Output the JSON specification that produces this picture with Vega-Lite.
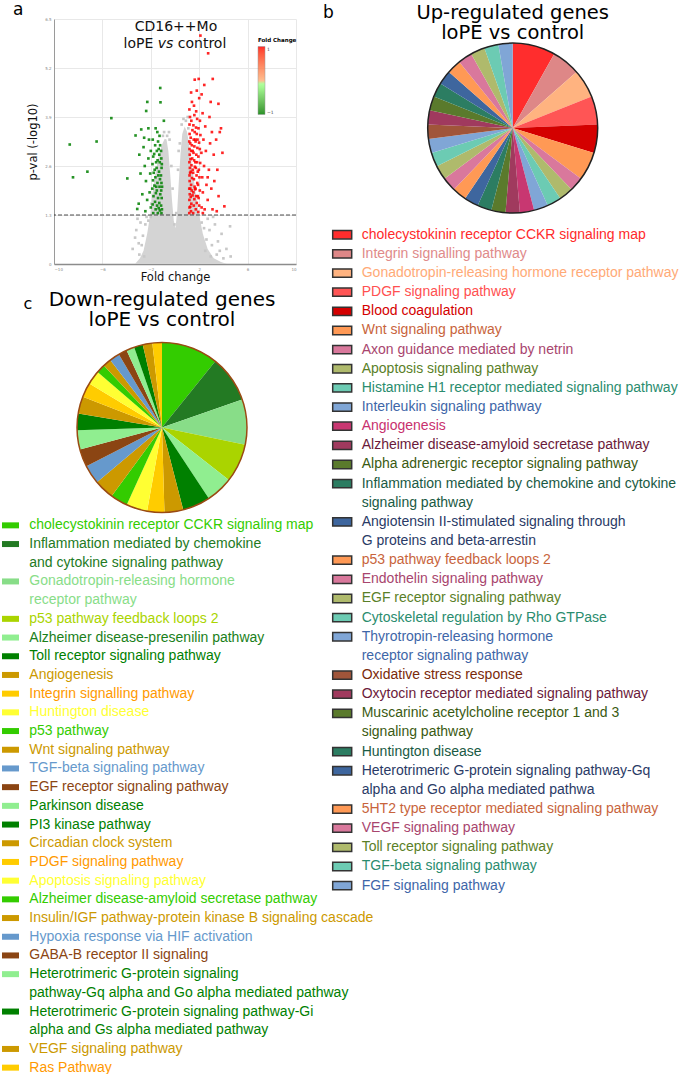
{
"$schema": "https://vega.github.io/schema/vega-lite/v6.json",
"usermeta": {"embedOptions": {"actions": false}},
"autosize": {"type": "pad"},
"padding": {"left": 2, "top": 1, "right": 0, "bottom": 0},
"config": {
  "view": {"stroke": null},
  "font": "DejaVu Sans",
  "title": {"font": "DejaVu Sans", "fontWeight": "normal", "color": "#000"},
  "axis": {"labelFont": "DejaVu Sans", "titleFont": "DejaVu Sans"}
},
"datasets": {
  "cloud": [
    {"x":-3.3,"y":0},{"x":-2.9,"y":0.15},{"x":-2.6,"y":0.35},{"x":-2.3,"y":0.8},{"x":-2.05,"y":1.3},{"x":-1.85,"y":1.9},{"x":-1.6,"y":2.45},{"x":-1.35,"y":2.85},{"x":-1.1,"y":3.15},{"x":-0.85,"y":3.32},{"x":-0.7,"y":3.3},{"x":-0.55,"y":3.0},{"x":-0.4,"y":2.4},{"x":-0.25,"y":1.7},{"x":-0.1,"y":1.15},{"x":0.04,"y":0.95},{"x":0.18,"y":1.4},{"x":0.3,"y":2.1},{"x":0.45,"y":2.9},{"x":0.6,"y":3.45},{"x":0.8,"y":3.65},{"x":1.0,"y":3.5},{"x":1.15,"y":3.2},{"x":1.4,"y":2.6},{"x":1.7,"y":1.9},{"x":2.0,"y":1.3},{"x":2.3,"y":0.8},{"x":2.7,"y":0.4},{"x":3.2,"y":0.15},{"x":3.8,"y":0.05},{"x":4.3,"y":0}
  ],
  "gray": [
    {"x":-3.5,"y":0.4},{"x":-3.2,"y":0.9},{"x":-3.0,"y":0.55},{"x":-2.85,"y":1.1},{"x":-2.65,"y":0.75},{"x":-2.45,"y":1.05},{"x":-2.95,"y":0.25},{"x":-2.55,"y":0.2},{"x":-2.75,"y":0.5},{"x":-2.35,"y":1.25},{"x":-3.1,"y":1.2},{"x":-3.3,"y":0.7},{"x":-2.2,"y":1.15},{"x":-2.0,"y":1.25},{"x":-1.95,"y":1.6},{"x":-1.0,"y":3.4},{"x":-0.9,"y":3.5},{"x":-0.65,"y":3.4},{"x":-0.45,"y":3.3},{"x":-0.3,"y":2.6},{"x":-0.5,"y":3.5},{"x":-0.2,"y":2.0},{"x":0.1,"y":1.35},{"x":-0.05,"y":1.05},{"x":0.25,"y":2.5},{"x":0.4,"y":3.2},{"x":0.55,"y":3.7},{"x":0.7,"y":3.85},{"x":0.9,"y":3.8},{"x":1.05,"y":3.9},{"x":1.1,"y":3.6},{"x":0.3,"y":3.0},{"x":2.2,"y":1.1},{"x":2.4,"y":0.95},{"x":2.6,"y":0.65},{"x":2.85,"y":0.9},{"x":3.05,"y":0.5},{"x":3.3,"y":1.05},{"x":3.55,"y":0.6},{"x":3.85,"y":0.8},{"x":4.25,"y":0.4},{"x":4.55,"y":1.0},{"x":2.95,"y":0.2},{"x":3.45,"y":0.25},{"x":4.0,"y":0.15},{"x":2.5,"y":0.35},{"x":2.7,"y":1.2},{"x":3.15,"y":1.25},{"x":4.6,"y":0.2},{"x":3.7,"y":0.35}
  ],
  "sig": [
    {"x":1.18,"y":1.35,"d":1},{"x":1.2,"y":1.5,"d":1},{"x":1.19,"y":1.7,"d":1},{"x":1.22,"y":1.85,"d":1},{"x":1.18,"y":2.0,"d":1},{"x":1.21,"y":2.2,"d":1},{"x":1.2,"y":2.35,"d":1},{"x":1.23,"y":2.55,"d":1},{"x":1.19,"y":2.7,"d":1},{"x":1.22,"y":2.9,"d":1},{"x":1.2,"y":3.05,"d":1},{"x":1.18,"y":3.25,"d":1},{"x":1.21,"y":3.45,"d":1},{"x":1.2,"y":3.7,"d":1},{"x":1.24,"y":3.9,"d":1},{"x":1.19,"y":4.1,"d":1},
    {"x":1.32,"y":1.4,"d":1},{"x":1.35,"y":1.6,"d":1},{"x":1.3,"y":1.78,"d":1},{"x":1.38,"y":1.95,"d":1},{"x":1.33,"y":2.1,"d":1},{"x":1.4,"y":2.28,"d":1},{"x":1.31,"y":2.45,"d":1},{"x":1.36,"y":2.62,"d":1},{"x":1.42,"y":2.8,"d":1},{"x":1.34,"y":3.0,"d":1},{"x":1.39,"y":3.15,"d":1},{"x":1.3,"y":3.35,"d":1},{"x":1.44,"y":3.55,"d":1},{"x":1.35,"y":3.8,"d":1},{"x":1.4,"y":4.3,"d":1},{"x":1.33,"y":4.55,"d":1},
    {"x":1.5,"y":1.35,"d":1},{"x":1.55,"y":1.55,"d":1},{"x":1.6,"y":1.72,"d":1},{"x":1.52,"y":1.9,"d":1},{"x":1.62,"y":2.05,"d":1},{"x":1.56,"y":2.25,"d":1},{"x":1.5,"y":2.42,"d":1},{"x":1.64,"y":2.58,"d":1},{"x":1.58,"y":2.75,"d":1},{"x":1.53,"y":2.95,"d":1},{"x":1.6,"y":3.12,"d":1},{"x":1.55,"y":3.3,"d":1},{"x":1.63,"y":3.5,"d":1},{"x":1.52,"y":3.68,"d":1},{"x":1.6,"y":3.95,"d":1},{"x":1.63,"y":4.89,"d":1},{"x":1.57,"y":4.2,"d":1},
    {"x":1.72,"y":1.45,"d":1},{"x":1.8,"y":1.62,"d":1},{"x":1.75,"y":1.8,"d":1},{"x":1.7,"y":2.0,"d":1},{"x":1.84,"y":2.15,"d":1},{"x":1.78,"y":2.35,"d":1},{"x":1.72,"y":2.55,"d":1},{"x":1.82,"y":2.7,"d":1},{"x":1.76,"y":2.9,"d":1},{"x":1.85,"y":3.08,"d":1},{"x":1.7,"y":3.25,"d":1},{"x":1.8,"y":3.45,"d":1},{"x":1.74,"y":3.62,"d":1},{"x":1.83,"y":3.85,"d":1},{"x":1.75,"y":4.05,"d":1},{"x":1.8,"y":4.6,"d":1},
    {"x":1.92,"y":1.38,"d":1},{"x":2.0,"y":1.55,"d":1},{"x":1.95,"y":1.75,"d":1},{"x":2.05,"y":1.95,"d":1},{"x":1.9,"y":2.1,"d":1},{"x":2.02,"y":2.3,"d":1},{"x":1.97,"y":2.5,"d":1},{"x":2.08,"y":2.68,"d":1},{"x":1.93,"y":2.85,"d":1},{"x":2.05,"y":3.05,"d":1},{"x":1.99,"y":3.22,"d":1},{"x":2.1,"y":3.42,"d":1},{"x":1.94,"y":3.6,"d":1},{"x":2.06,"y":3.8,"d":1},{"x":1.96,"y":4.91,"d":1},{"x":2.1,"y":6.06,"d":1},{"x":2.0,"y":4.4,"d":1},
    {"x":2.2,"y":1.5,"d":1},{"x":2.3,"y":1.9,"d":1},{"x":2.25,"y":2.3,"d":1},{"x":2.4,"y":2.6,"d":1},{"x":2.18,"y":2.95,"d":1},{"x":2.35,"y":3.3,"d":1},{"x":2.5,"y":3.65,"d":1},{"x":2.28,"y":4.0,"d":1},{"x":2.6,"y":2.1,"d":1},{"x":2.45,"y":1.45,"d":1},{"x":2.55,"y":3.0,"d":1},{"x":2.2,"y":4.5,"d":1},{"x":2.42,"y":4.75,"d":1},{"x":2.3,"y":1.35,"d":1},
    {"x":2.74,"y":5.59,"d":1},{"x":2.7,"y":1.7,"d":1},{"x":2.8,"y":2.5,"d":1},{"x":2.9,"y":3.2,"d":1},{"x":3.0,"y":2.0,"d":1},{"x":2.85,"y":3.9,"d":1},{"x":3.1,"y":1.45,"d":1},{"x":3.2,"y":2.9,"d":1},{"x":3.12,"y":4.91,"d":1},{"x":2.95,"y":4.3,"d":1},{"x":3.05,"y":3.5,"d":1},{"x":2.7,"y":2.3,"d":1},{"x":3.25,"y":2.2,"d":1},
    {"x":3.4,"y":3.3,"d":1},{"x":3.59,"y":4.25,"d":1},{"x":3.5,"y":2.5,"d":1},{"x":3.7,"y":3.5,"d":1},{"x":3.92,"y":2.95,"d":1},{"x":4.08,"y":1.53,"d":1},{"x":3.6,"y":1.8,"d":1},{"x":3.8,"y":3.6,"d":1},{"x":3.45,"y":1.4,"d":1},
    {"x":1.26,"y":1.52,"d":1},{"x":1.27,"y":2.0,"d":1},{"x":1.25,"y":2.42,"d":1},{"x":1.28,"y":2.78,"d":1},{"x":1.26,"y":3.2,"d":1},{"x":1.45,"y":1.82,"d":1},{"x":1.47,"y":2.5,"d":1},{"x":1.46,"y":3.0,"d":1},{"x":1.66,"y":1.98,"d":1},{"x":1.68,"y":2.7,"d":1},{"x":1.68,"y":3.3,"d":1},{"x":1.88,"y":1.8,"d":1},{"x":1.88,"y":2.45,"d":1},{"x":1.86,"y":3.3,"d":1},
    {"x":-1.12,"y":1.35,"d":-1},{"x":-1.15,"y":1.55,"d":-1},{"x":-1.1,"y":1.75,"d":-1},{"x":-1.14,"y":1.95,"d":-1},{"x":-1.12,"y":2.15,"d":-1},{"x":-1.16,"y":2.35,"d":-1},{"x":-1.11,"y":2.55,"d":-1},{"x":-1.13,"y":2.8,"d":-1},{"x":-1.15,"y":3.0,"d":-1},
    {"x":-1.25,"y":1.42,"d":-1},{"x":-1.3,"y":1.62,"d":-1},{"x":-1.22,"y":1.85,"d":-1},{"x":-1.28,"y":2.05,"d":-1},{"x":-1.24,"y":2.25,"d":-1},{"x":-1.32,"y":2.45,"d":-1},{"x":-1.26,"y":2.7,"d":-1},{"x":-1.3,"y":2.9,"d":-1},{"x":-1.23,"y":3.15,"d":-1},{"x":-1.22,"y":4.67,"d":-1},{"x":-1.2,"y":4.29,"d":-1},{"x":-1.28,"y":3.4,"d":-1},
    {"x":-1.42,"y":1.35,"d":-1},{"x":-1.48,"y":1.55,"d":-1},{"x":-1.4,"y":1.75,"d":-1},{"x":-1.5,"y":1.95,"d":-1},{"x":-1.45,"y":2.15,"d":-1},{"x":-1.38,"y":2.35,"d":-1},{"x":-1.52,"y":2.55,"d":-1},{"x":-1.44,"y":2.75,"d":-1},{"x":-1.5,"y":3.0,"d":-1},{"x":-1.4,"y":3.25,"d":-1},{"x":-1.46,"y":3.5,"d":-1},
    {"x":-1.6,"y":1.45,"d":-1},{"x":-1.65,"y":1.65,"d":-1},{"x":-1.58,"y":1.88,"d":-1},{"x":-1.7,"y":2.08,"d":-1},{"x":-1.62,"y":2.3,"d":-1},{"x":-1.68,"y":2.5,"d":-1},{"x":-1.56,"y":2.7,"d":-1},{"x":-1.72,"y":2.92,"d":-1},{"x":-1.64,"y":3.15,"d":-1},{"x":-1.6,"y":3.6,"d":-1},{"x":-0.92,"y":3.8,"d":-1},
    {"x":-1.8,"y":1.35,"d":-1},{"x":-1.85,"y":1.58,"d":-1},{"x":-1.78,"y":1.8,"d":-1},{"x":-1.88,"y":2.0,"d":-1},{"x":-1.82,"y":2.22,"d":-1},{"x":-1.76,"y":2.42,"d":-1},{"x":-1.86,"y":2.65,"d":-1},{"x":-1.8,"y":2.85,"d":-1},{"x":-1.84,"y":3.3,"d":-1},
    {"x":-2.0,"y":1.5,"d":-1},{"x":-2.1,"y":1.9,"d":-1},{"x":-2.05,"y":2.4,"d":-1},{"x":-2.2,"y":2.8,"d":-1},{"x":-2.15,"y":3.3,"d":-1},{"x":-2.29,"y":4.3,"d":-1},{"x":-2.38,"y":4.06,"d":-1},{"x":-2.3,"y":1.7,"d":-1},{"x":-2.4,"y":2.2,"d":-1},{"x":-2.5,"y":2.6,"d":-1},{"x":-2.6,"y":3.1,"d":-1},{"x":-2.45,"y":1.4,"d":-1},{"x":-2.7,"y":1.85,"d":-1},{"x":-2.79,"y":3.57,"d":-1},{"x":-2.85,"y":2.4,"d":-1},{"x":-3.0,"y":1.6,"d":-1},{"x":-3.12,"y":1.46,"d":-1},{"x":-3.26,"y":3.41,"d":-1},{"x":-2.95,"y":2.9,"d":-1},{"x":-2.2,"y":3.6,"d":-1},{"x":-2.55,"y":3.35,"d":-1},{"x":-2.0,"y":3.0,"d":-1},
    {"x":-8.7,"y":3.17,"d":-1},{"x":-8.43,"y":2.3,"d":-1},{"x":-6.48,"y":3.25,"d":-1},{"x":-7.24,"y":2.45,"d":-1},{"x":-5.26,"y":3.87,"d":-1},{"x":-3.94,"y":2.27,"d":-1},
    {"x":-1.08,"y":1.45,"d":-1},{"x":-1.07,"y":2.05,"d":-1},{"x":-1.09,"y":2.65,"d":-1},{"x":-1.35,"y":1.48,"d":-1},{"x":-1.55,"y":2.05,"d":-1},{"x":-1.35,"y":3.05,"d":-1}
  ],
  "up": [
    {"i":1,"item":"cholecystokinin receptor CCKR signaling map","n":3},
    {"i":2,"item":"Integrin signalling pathway","n":2},
    {"i":3,"item":"Gonadotropin-releasing hormone receptor pathway","n":2},
    {"i":4,"item":"PDGF signaling pathway","n":2},
    {"i":5,"item":"Blood coagulation","n":2},
    {"i":6,"item":"Wnt signaling pathway","n":2},
    {"i":7,"item":"Axon guidance mediated by netrin","n":1},
    {"i":8,"item":"Apoptosis signaling pathway","n":1},
    {"i":9,"item":"Histamine H1 receptor mediated signaling pathway","n":1},
    {"i":10,"item":"Interleukin signaling pathway","n":1},
    {"i":11,"item":"Angiogenesis","n":1},
    {"i":12,"item":"Alzheimer disease-amyloid secretase pathway","n":1},
    {"i":13,"item":"Alpha adrenergic receptor signaling pathway","n":1},
    {"i":14,"item":"Inflammation mediated by chemokine and cytokine signaling pathway","n":1},
    {"i":15,"item":"Angiotensin II-stimulated signaling through G proteins and beta-arrestin","n":1},
    {"i":16,"item":"p53 pathway feedback loops 2","n":1},
    {"i":17,"item":"Endothelin signaling pathway","n":1},
    {"i":18,"item":"EGF receptor signaling pathway","n":1},
    {"i":19,"item":"Cytoskeletal regulation by Rho GTPase","n":1},
    {"i":20,"item":"Thyrotropin-releasing hormone receptor signaling pathway","n":1},
    {"i":21,"item":"Oxidative stress response","n":1},
    {"i":22,"item":"Oxytocin receptor mediated signaling pathway","n":1},
    {"i":23,"item":"Muscarinic acetylcholine receptor 1 and 3 signaling pathway","n":1},
    {"i":24,"item":"Huntington disease","n":1},
    {"i":25,"item":"Heterotrimeric G-protein signaling pathway-Gq alpha and Go alpha mediated pathwa","n":1},
    {"i":26,"item":"5HT2 type receptor mediated signaling pathway","n":1},
    {"i":27,"item":"VEGF signaling pathway","n":1},
    {"i":28,"item":"Toll receptor signaling pathway","n":1},
    {"i":29,"item":"TGF-beta signaling pathway","n":1},
    {"i":30,"item":"FGF signaling pathway","n":1}
  ],
  "upLines": [
    {"line":0,"item":"cholecystokinin receptor CCKR signaling map","text":"cholecystokinin receptor CCKR signaling map"},
    {"line":1,"item":"Integrin signalling pathway","text":"Integrin signalling pathway"},
    {"line":2,"item":"Gonadotropin-releasing hormone receptor pathway","text":"Gonadotropin-releasing hormone receptor pathway"},
    {"line":3,"item":"PDGF signaling pathway","text":"PDGF signaling pathway"},
    {"line":4,"item":"Blood coagulation","text":"Blood coagulation"},
    {"line":5,"item":"Wnt signaling pathway","text":"Wnt signaling pathway"},
    {"line":6,"item":"Axon guidance mediated by netrin","text":"Axon guidance mediated by netrin"},
    {"line":7,"item":"Apoptosis signaling pathway","text":"Apoptosis signaling pathway"},
    {"line":8,"item":"Histamine H1 receptor mediated signaling pathway","text":"Histamine H1 receptor mediated signaling pathway"},
    {"line":9,"item":"Interleukin signaling pathway","text":"Interleukin signaling pathway"},
    {"line":10,"item":"Angiogenesis","text":"Angiogenesis"},
    {"line":11,"item":"Alzheimer disease-amyloid secretase pathway","text":"Alzheimer disease-amyloid secretase pathway"},
    {"line":12,"item":"Alpha adrenergic receptor signaling pathway","text":"Alpha adrenergic receptor signaling pathway"},
    {"line":13,"item":"Inflammation mediated by chemokine and cytokine signaling pathway","text":"Inflammation mediated by chemokine and cytokine"},
    {"line":14,"item":"Inflammation mediated by chemokine and cytokine signaling pathway","text":"signaling pathway","cont":1},
    {"line":15,"item":"Angiotensin II-stimulated signaling through G proteins and beta-arrestin","text":"Angiotensin II-stimulated signaling through"},
    {"line":16,"item":"Angiotensin II-stimulated signaling through G proteins and beta-arrestin","text":"G proteins and beta-arrestin","cont":1},
    {"line":17,"item":"p53 pathway feedback loops 2","text":"p53 pathway feedback loops 2"},
    {"line":18,"item":"Endothelin signaling pathway","text":"Endothelin signaling pathway"},
    {"line":19,"item":"EGF receptor signaling pathway","text":"EGF receptor signaling pathway"},
    {"line":20,"item":"Cytoskeletal regulation by Rho GTPase","text":"Cytoskeletal regulation by Rho GTPase"},
    {"line":21,"item":"Thyrotropin-releasing hormone receptor signaling pathway","text":"Thyrotropin-releasing hormone"},
    {"line":22,"item":"Thyrotropin-releasing hormone receptor signaling pathway","text":"receptor signaling pathway","cont":1},
    {"line":23,"item":"Oxidative stress response","text":"Oxidative stress response"},
    {"line":24,"item":"Oxytocin receptor mediated signaling pathway","text":"Oxytocin receptor mediated signaling pathway"},
    {"line":25,"item":"Muscarinic acetylcholine receptor 1 and 3 signaling pathway","text":"Muscarinic acetylcholine receptor 1 and 3"},
    {"line":26,"item":"Muscarinic acetylcholine receptor 1 and 3 signaling pathway","text":"signaling pathway","cont":1},
    {"line":27,"item":"Huntington disease","text":"Huntington disease"},
    {"line":28,"item":"Heterotrimeric G-protein signaling pathway-Gq alpha and Go alpha mediated pathwa","text":"Heterotrimeric G-protein signaling pathway-Gq"},
    {"line":29,"item":"Heterotrimeric G-protein signaling pathway-Gq alpha and Go alpha mediated pathwa","text":"alpha and Go alpha mediated pathwa","cont":1},
    {"line":30,"item":"5HT2 type receptor mediated signaling pathway","text":"5HT2 type receptor mediated signaling pathway"},
    {"line":31,"item":"VEGF signaling pathway","text":"VEGF signaling pathway"},
    {"line":32,"item":"Toll receptor signaling pathway","text":"Toll receptor signaling pathway"},
    {"line":33,"item":"TGF-beta signaling pathway","text":"TGF-beta signaling pathway"},
    {"line":34,"item":"FGF signaling pathway","text":"FGF signaling pathway"}
  ],
  "down": [
    {"i":1,"item":"cholecystokinin receptor CCKR signaling map","share":38.6},
    {"i":2,"item":"Inflammation mediated by chemokine and cytokine signaling pathway","share":31.7},
    {"i":3,"item":"Gonadotropin-releasing hormone receptor pathway","share":30.8},
    {"i":4,"item":"p53 pathway feedback loops 2","share":26.3},
    {"i":5,"item":"Alzheimer disease-presenilin pathway","share":18.3},
    {"i":6,"item":"Toll receptor signaling pathway","share":18.9},
    {"i":7,"item":"Angiogenesis","share":12.7},
    {"i":8,"item":"Integrin signalling pathway","share":11.7},
    {"i":9,"item":"Huntington disease","share":14.3},
    {"i":10,"item":"p53 pathway","share":11.7},
    {"i":11,"item":"Wnt signaling pathway","share":13.6},
    {"i":12,"item":"TGF-beta signaling pathway","share":12.8},
    {"i":13,"item":"EGF receptor signaling pathway","share":12.1},
    {"i":14,"item":"Parkinson disease","share":13.1},
    {"i":15,"item":"PI3 kinase pathway","share":11.3},
    {"i":16,"item":"Circadian clock system","share":11.6},
    {"i":17,"item":"PDGF signaling pathway","share":9.9},
    {"i":18,"item":"Apoptosis signaling pathway","share":9.5},
    {"i":19,"item":"Alzheimer disease-amyloid secretase pathway","share":6.0},
    {"i":20,"item":"Insulin/IGF pathway-protein kinase B signaling cascade","share":5.7},
    {"i":21,"item":"Hypoxia response via HIF activation","share":6.9},
    {"i":22,"item":"GABA-B receptor II signaling","share":5.9},
    {"i":23,"item":"Heterotrimeric G-protein signaling pathway-Gq alpha and Go alpha mediated pathway","share":5.5},
    {"i":24,"item":"Heterotrimeric G-protein signaling pathway-Gi alpha and Gs alpha mediated pathway","share":6.0},
    {"i":25,"item":"VEGF signaling pathway","share":6.5},
    {"i":26,"item":"Ras Pathway","share":6.5}
  ],
  "downLines": [
    {"line":0,"item":"cholecystokinin receptor CCKR signaling map","text":"cholecystokinin receptor CCKR signaling map"},
    {"line":1,"item":"Inflammation mediated by chemokine and cytokine signaling pathway","text":"Inflammation mediated by chemokine"},
    {"line":2,"item":"Inflammation mediated by chemokine and cytokine signaling pathway","text":"and cytokine signaling pathway","cont":1},
    {"line":3,"item":"Gonadotropin-releasing hormone receptor pathway","text":"Gonadotropin-releasing hormone"},
    {"line":4,"item":"Gonadotropin-releasing hormone receptor pathway","text":"receptor pathway","cont":1},
    {"line":5,"item":"p53 pathway feedback loops 2","text":"p53 pathway feedback loops 2"},
    {"line":6,"item":"Alzheimer disease-presenilin pathway","text":"Alzheimer disease-presenilin pathway"},
    {"line":7,"item":"Toll receptor signaling pathway","text":"Toll receptor signaling pathway"},
    {"line":8,"item":"Angiogenesis","text":"Angiogenesis"},
    {"line":9,"item":"Integrin signalling pathway","text":"Integrin signalling pathway"},
    {"line":10,"item":"Huntington disease","text":"Huntington disease"},
    {"line":11,"item":"p53 pathway","text":"p53 pathway"},
    {"line":12,"item":"Wnt signaling pathway","text":"Wnt signaling pathway"},
    {"line":13,"item":"TGF-beta signaling pathway","text":"TGF-beta signaling pathway"},
    {"line":14,"item":"EGF receptor signaling pathway","text":"EGF receptor signaling pathway"},
    {"line":15,"item":"Parkinson disease","text":"Parkinson disease"},
    {"line":16,"item":"PI3 kinase pathway","text":"PI3 kinase pathway"},
    {"line":17,"item":"Circadian clock system","text":"Circadian clock system"},
    {"line":18,"item":"PDGF signaling pathway","text":"PDGF signaling pathway"},
    {"line":19,"item":"Apoptosis signaling pathway","text":"Apoptosis signaling pathway"},
    {"line":20,"item":"Alzheimer disease-amyloid secretase pathway","text":"Alzheimer disease-amyloid secretase pathway"},
    {"line":21,"item":"Insulin/IGF pathway-protein kinase B signaling cascade","text":"Insulin/IGF pathway-protein kinase B signaling cascade"},
    {"line":22,"item":"Hypoxia response via HIF activation","text":"Hypoxia response via HIF activation"},
    {"line":23,"item":"GABA-B receptor II signaling","text":"GABA-B receptor II signaling"},
    {"line":24,"item":"Heterotrimeric G-protein signaling pathway-Gq alpha and Go alpha mediated pathway","text":"Heterotrimeric G-protein signaling"},
    {"line":25,"item":"Heterotrimeric G-protein signaling pathway-Gq alpha and Go alpha mediated pathway","text":"pathway-Gq alpha and Go alpha mediated pathway","cont":1},
    {"line":26,"item":"Heterotrimeric G-protein signaling pathway-Gi alpha and Gs alpha mediated pathway","text":"Heterotrimeric G-protein signaling pathway-Gi"},
    {"line":27,"item":"Heterotrimeric G-protein signaling pathway-Gi alpha and Gs alpha mediated pathway","text":"alpha and Gs alpha mediated pathway","cont":1},
    {"line":28,"item":"VEGF signaling pathway","text":"VEGF signaling pathway"},
    {"line":29,"item":"Ras Pathway","text":"Ras Pathway"}
  ]
},
"hconcat": [
  {
    "vconcat": [
      {
        "hconcat": [
          {"width": 10.3, "height": 1, "data": {"values": []}, "mark": {"type": "point", "opacity": 0}},
          {
            "width": 242, "height": 245,
            "title": {"text": "a", "anchor": "start", "frame": "group", "dx": -41, "offset": -2, "fontSize": 17, "fontWeight": "normal"},
            "layer": [
              {
                "data": {"name": "cloud"},
                "mark": {"type": "area", "color": "#d4d4d4", "interpolate": "linear"},
                "encoding": {
                  "x": {"field": "x", "type": "quantitative", "scale": {"domain": [-10, 10], "nice": false},
                        "axis": {"values": [-10,-8,-6,-4,-2,0,2,4,6,8,10], "grid": true, "gridColor": "#e8e8e8", "ticks": false, "domainColor": "#8c8c8c", "domainWidth": 1.5, "labelFontSize": 4, "labelColor": "#888", "labelPadding": 3, "title": "Fold change", "titleFontSize": 11.5, "titleFontWeight": "normal", "titlePadding": 0, "titleColor": "#111"}},
                  "y": {"field": "y", "type": "quantitative", "scale": {"domain": [0, 6.5], "nice": false},
                        "axis": {"values": [0,0.65,1.3,1.95,2.6,3.25,3.9,4.55,5.2,5.85,6.5], "format": ".2~f", "grid": true, "gridColor": "#e8e8e8", "ticks": false, "domainColor": "#9a9a9a", "domainWidth": 1, "labelFontSize": 4, "labelColor": "#888", "labelPadding": 3, "title": "p-val (-log10)", "titleFontSize": 11.5, "titleFontWeight": "normal", "titlePadding": 6, "titleColor": "#111"}}
                }
              },
              {
                "data": {"name": "gray"},
                "mark": {"type": "point", "shape": "square", "size": 7, "filled": true, "color": "#c8c8c8", "opacity": 1},
                "encoding": {"x": {"field": "x", "type": "quantitative"}, "y": {"field": "y", "type": "quantitative"}}
              },
              {
                "data": {"name": "sig"},
                "mark": {"type": "point", "shape": "square", "size": 7, "filled": true, "opacity": 0.85},
                "encoding": {
                  "x": {"field": "x", "type": "quantitative"},
                  "y": {"field": "y", "type": "quantitative"},
                  "color": {"field": "d", "type": "quantitative", "scale": {"domain": [-1, 0, 1], "range": ["#008000", "#ffffff", "#ff0000"]},
                            "legend": {"orient": "none", "legendX": 204, "legendY": 19, "direction": "vertical", "title": "Fold Change", "titleFontSize": 5.5, "titleFontWeight": "bold", "titlePadding": 3, "gradientLength": 68, "gradientThickness": 7, "gradientStrokeColor": "#888", "gradientStrokeWidth": 0.5, "labelFontSize": 4.5, "labelColor": "#444", "labelOffset": 2, "values": [-1, 1], "labelOverlap": false}}
                }
              },
              {
                "data": {"values": [{}]},
                "mark": {"type": "rule", "strokeDash": [4, 2], "color": "#222", "strokeWidth": 0.8},
                "encoding": {"y": {"datum": 1.3}}
              },
              {
                "data": {"values": [{"t": "CD16++Mo"}]},
                "mark": {"type": "text", "fontSize": 14, "font": "DejaVu Sans", "color": "#111", "baseline": "middle", "align": "center"},
                "encoding": {"x": {"datum": 0.08}, "y": {"datum": 6.29}, "text": {"field": "t"}}
              },
              {
                "data": {"values": [{"t": "loPE"}]},
                "mark": {"type": "text", "fontSize": 14, "font": "DejaVu Sans", "color": "#111", "baseline": "middle", "align": "right"},
                "encoding": {"x": {"datum": -1.79}, "y": {"datum": 5.84}, "text": {"field": "t"}}
              },
              {
                "data": {"values": [{"t": "vs"}]},
                "mark": {"type": "text", "fontSize": 14, "font": "DejaVu Sans", "fontStyle": "italic", "color": "#111", "baseline": "middle", "align": "left"},
                "encoding": {"x": {"datum": -1.43}, "y": {"datum": 5.84}, "text": {"field": "t"}}
              },
              {
                "data": {"values": [{"t": "control"}]},
                "mark": {"type": "text", "fontSize": 14, "font": "DejaVu Sans", "color": "#111", "baseline": "middle", "align": "left"},
                "encoding": {"x": {"datum": 0.23}, "y": {"datum": 5.84}, "text": {"field": "t"}}
              }
            ]
          }
        ],
        "spacing": 0,
        "resolve": {"scale": {"x": "independent", "y": "independent", "color": "independent"}}
      },
      {
        "title": {"text": "c", "anchor": "start", "frame": "group", "dx": 21.5, "offset": -22.3, "fontSize": 16, "fontWeight": "normal"},
        "vconcat": [
          {
            "width": 320, "height": 170,
            "title": {"text": ["Down-regulated genes", "loPE vs control"], "anchor": "middle", "frame": "group", "fontSize": 20, "lineHeight": 20, "offset": 9.5, "fontWeight": "normal"},
            "data": {"name": "down"},
            "layer": [
              {
                "mark": {"type": "arc", "radius": 85},
                "encoding": {
                  "theta": {"field": "share", "type": "quantitative", "stack": true},
                  "order": {"field": "i", "type": "quantitative"},
                  "color": {"field": "item", "type": "nominal", "legend": null,
                    "scale": {
                      "domain": ["cholecystokinin receptor CCKR signaling map","Inflammation mediated by chemokine and cytokine signaling pathway","Gonadotropin-releasing hormone receptor pathway","p53 pathway feedback loops 2","Alzheimer disease-presenilin pathway","Toll receptor signaling pathway","Angiogenesis","Integrin signalling pathway","Huntington disease","p53 pathway","Wnt signaling pathway","TGF-beta signaling pathway","EGF receptor signaling pathway","Parkinson disease","PI3 kinase pathway","Circadian clock system","PDGF signaling pathway","Apoptosis signaling pathway","Alzheimer disease-amyloid secretase pathway","Insulin/IGF pathway-protein kinase B signaling cascade","Hypoxia response via HIF activation","GABA-B receptor II signaling","Heterotrimeric G-protein signaling pathway-Gq alpha and Go alpha mediated pathway","Heterotrimeric G-protein signaling pathway-Gi alpha and Gs alpha mediated pathway","VEGF signaling pathway","Ras Pathway"],
                      "range": ["#33cc00","#237a23","#88dd88","#aad400","#90ee90","#008000","#cc9900","#ffcc00","#ffff33","#33cc00","#cc9900","#6699cc","#8b4513","#90ee90","#008000","#cc9900","#ffcc00","#ffff33","#33cc00","#cc9900","#6699cc","#8b4513","#90ee90","#008000","#cc9900","#ffcc00"]
                    }
                  }
                }
              },
              {
                "mark": {"type": "arc", "radius": 85, "fillOpacity": 0, "stroke": "#9a4a12", "strokeWidth": 1.5},
                "encoding": {"theta": {"aggregate": "sum", "field": "share", "type": "quantitative"}}
              }
            ]
          },
          {
            "width": 27.3, "height": 561,
            "data": {"name": "downLines"},
            "layer": [
              {
                "transform": [{"filter": "!datum.cont"}],
                "mark": {"type": "point", "shape": "M0,-0.353H2V0.353H0Z", "size": 289, "filled": true, "strokeWidth": 0, "opacity": 1},
                "encoding": {
                  "x": {"datum": 0, "type": "quantitative", "scale": {"domain": [0, 1]}, "axis": null},
                  "y": {"field": "line", "type": "ordinal", "axis": null},
                  "fill": {"field": "item", "type": "nominal", "legend": null,
                    "scale": {
                      "domain": ["cholecystokinin receptor CCKR signaling map","Inflammation mediated by chemokine and cytokine signaling pathway","Gonadotropin-releasing hormone receptor pathway","p53 pathway feedback loops 2","Alzheimer disease-presenilin pathway","Toll receptor signaling pathway","Angiogenesis","Integrin signalling pathway","Huntington disease","p53 pathway","Wnt signaling pathway","TGF-beta signaling pathway","EGF receptor signaling pathway","Parkinson disease","PI3 kinase pathway","Circadian clock system","PDGF signaling pathway","Apoptosis signaling pathway","Alzheimer disease-amyloid secretase pathway","Insulin/IGF pathway-protein kinase B signaling cascade","Hypoxia response via HIF activation","GABA-B receptor II signaling","Heterotrimeric G-protein signaling pathway-Gq alpha and Go alpha mediated pathway","Heterotrimeric G-protein signaling pathway-Gi alpha and Gs alpha mediated pathway","VEGF signaling pathway","Ras Pathway"],
                      "range": ["#33cc00","#237a23","#88dd88","#aad400","#90ee90","#008000","#cc9900","#ffcc00","#ffff33","#33cc00","#cc9900","#6699cc","#8b4513","#90ee90","#008000","#cc9900","#ffcc00","#ffff33","#33cc00","#cc9900","#6699cc","#8b4513","#90ee90","#008000","#cc9900","#ffcc00"]
                    }
                  }
                }
              },
              {
                "mark": {"type": "text", "align": "left", "baseline": "middle", "font": "Liberation Sans", "fontSize": 14},
                "encoding": {
                  "x": {"datum": 1, "type": "quantitative"},
                  "y": {"field": "line", "type": "ordinal", "axis": null},
                  "text": {"field": "text"},
                  "color": {"field": "item", "type": "nominal", "legend": null,
                    "scale": {
                      "domain": ["cholecystokinin receptor CCKR signaling map","Inflammation mediated by chemokine and cytokine signaling pathway","Gonadotropin-releasing hormone receptor pathway","p53 pathway feedback loops 2","Alzheimer disease-presenilin pathway","Toll receptor signaling pathway","Angiogenesis","Integrin signalling pathway","Huntington disease","p53 pathway","Wnt signaling pathway","TGF-beta signaling pathway","EGF receptor signaling pathway","Parkinson disease","PI3 kinase pathway","Circadian clock system","PDGF signaling pathway","Apoptosis signaling pathway","Alzheimer disease-amyloid secretase pathway","Insulin/IGF pathway-protein kinase B signaling cascade","Hypoxia response via HIF activation","GABA-B receptor II signaling","Heterotrimeric G-protein signaling pathway-Gq alpha and Go alpha mediated pathway","Heterotrimeric G-protein signaling pathway-Gi alpha and Gs alpha mediated pathway","VEGF signaling pathway","Ras Pathway"],
                      "range": ["#33cc00","#237a23","#88dd88","#aad400","#1a801a","#008000","#cc9900","#ff9900","#ffff33","#33cc00","#cc9900","#6699cc","#8b4513","#008000","#008000","#cc9900","#ff9900","#ffff33","#33cc00","#cc9900","#6699cc","#8b4513","#008000","#008000","#cc9900","#ff9900"]
                    }
                  }
                }
              }
            ]
          }
        ],
        "spacing": 0.5,
        "resolve": {"scale": {"color": "independent", "fill": "independent", "theta": "independent", "x": "independent", "y": "independent"}}
      }
    ],
    "spacing": 6.5,
    "resolve": {"scale": {"color": "independent", "fill": "independent", "theta": "independent", "x": "independent", "y": "independent"}}
  },
  {
    "vconcat": [
      {
        "width": 29, "height": 11.2,
        "title": {"text": "b", "anchor": "start", "frame": "group", "dx": -9.7, "offset": -3.2, "fontSize": 17, "fontWeight": "normal"},
        "data": {"values": []},
        "mark": {"type": "point", "opacity": 0}
      },
      {
        "width": 360, "height": 170,
        "title": {"text": ["Up-regulated genes", "loPE vs control"], "anchor": "middle", "frame": "group", "fontSize": 19.5, "lineHeight": 20, "offset": -3.2, "fontWeight": "normal"},
        "data": {"name": "up"},
        "layer": [
          {
            "mark": {"type": "arc", "radius": 85},
            "encoding": {
              "theta": {"field": "n", "type": "quantitative", "stack": true},
              "order": {"field": "i", "type": "quantitative"},
              "color": {"field": "item", "type": "nominal", "legend": null,
                "scale": {
                  "domain": ["cholecystokinin receptor CCKR signaling map","Integrin signalling pathway","Gonadotropin-releasing hormone receptor pathway","PDGF signaling pathway","Blood coagulation","Wnt signaling pathway","Axon guidance mediated by netrin","Apoptosis signaling pathway","Histamine H1 receptor mediated signaling pathway","Interleukin signaling pathway","Angiogenesis","Alzheimer disease-amyloid secretase pathway","Alpha adrenergic receptor signaling pathway","Inflammation mediated by chemokine and cytokine signaling pathway","Angiotensin II-stimulated signaling through G proteins and beta-arrestin","p53 pathway feedback loops 2","Endothelin signaling pathway","EGF receptor signaling pathway","Cytoskeletal regulation by Rho GTPase","Thyrotropin-releasing hormone receptor signaling pathway","Oxidative stress response","Oxytocin receptor mediated signaling pathway","Muscarinic acetylcholine receptor 1 and 3 signaling pathway","Huntington disease","Heterotrimeric G-protein signaling pathway-Gq alpha and Go alpha mediated pathwa","5HT2 type receptor mediated signaling pathway","VEGF signaling pathway","Toll receptor signaling pathway","TGF-beta signaling pathway","FGF signaling pathway"],
                  "range": ["#ff2d2d","#de8787","#ffb380","#ff5555","#d40000","#ff9955","#d9789c","#afba6c","#6ccbb3","#80a6d6","#c83771","#a03a5e","#5a7a2c","#2c7d62","#3e669e","#ff9955","#d9789c","#afba6c","#6ccbb3","#80a6d6","#a0553a","#a03a5e","#5a7a2c","#2c7d62","#3e669e","#ff9955","#d9789c","#afba6c","#6ccbb3","#80a6d6"]
                }
              }
            }
          },
          {
            "mark": {"type": "arc", "radius": 85, "fillOpacity": 0, "stroke": "#222", "strokeWidth": 1.5},
            "encoding": {"theta": {"aggregate": "sum", "field": "n", "type": "quantitative"}}
          }
        ]
      },
      {
        "width": 29, "height": 670,
        "data": {"name": "upLines"},
        "layer": [
          {
            "transform": [{"filter": "!datum.cont"}],
            "mark": {"type": "point", "shape": "M0,-0.437H2V0.437H0Z", "size": 361, "filled": true, "stroke": "#333", "strokeWidth": 1.5, "opacity": 1},
            "encoding": {
              "x": {"datum": 0, "type": "quantitative", "scale": {"domain": [0, 1]}, "axis": null},
              "y": {"field": "line", "type": "ordinal", "axis": null},
              "fill": {"field": "item", "type": "nominal", "legend": null,
                "scale": {
                  "domain": ["cholecystokinin receptor CCKR signaling map","Integrin signalling pathway","Gonadotropin-releasing hormone receptor pathway","PDGF signaling pathway","Blood coagulation","Wnt signaling pathway","Axon guidance mediated by netrin","Apoptosis signaling pathway","Histamine H1 receptor mediated signaling pathway","Interleukin signaling pathway","Angiogenesis","Alzheimer disease-amyloid secretase pathway","Alpha adrenergic receptor signaling pathway","Inflammation mediated by chemokine and cytokine signaling pathway","Angiotensin II-stimulated signaling through G proteins and beta-arrestin","p53 pathway feedback loops 2","Endothelin signaling pathway","EGF receptor signaling pathway","Cytoskeletal regulation by Rho GTPase","Thyrotropin-releasing hormone receptor signaling pathway","Oxidative stress response","Oxytocin receptor mediated signaling pathway","Muscarinic acetylcholine receptor 1 and 3 signaling pathway","Huntington disease","Heterotrimeric G-protein signaling pathway-Gq alpha and Go alpha mediated pathwa","5HT2 type receptor mediated signaling pathway","VEGF signaling pathway","Toll receptor signaling pathway","TGF-beta signaling pathway","FGF signaling pathway"],
                  "range": ["#ff2d2d","#de8787","#ffb380","#ff5555","#d40000","#ff9955","#d9789c","#afba6c","#6ccbb3","#80a6d6","#c83771","#a03a5e","#5a7a2c","#2c7d62","#3e669e","#ff9955","#d9789c","#afba6c","#6ccbb3","#80a6d6","#a0553a","#a03a5e","#5a7a2c","#2c7d62","#3e669e","#ff9955","#d9789c","#afba6c","#6ccbb3","#80a6d6"]
                }
              }
            }
          },
          {
            "mark": {"type": "text", "align": "left", "baseline": "middle", "font": "Liberation Sans", "fontSize": 14},
            "encoding": {
              "x": {"datum": 1, "type": "quantitative"},
              "y": {"field": "line", "type": "ordinal", "axis": null},
              "text": {"field": "text"},
              "color": {"field": "item", "type": "nominal", "legend": null,
                "scale": {
                  "domain": ["cholecystokinin receptor CCKR signaling map","Integrin signalling pathway","Gonadotropin-releasing hormone receptor pathway","PDGF signaling pathway","Blood coagulation","Wnt signaling pathway","Axon guidance mediated by netrin","Apoptosis signaling pathway","Histamine H1 receptor mediated signaling pathway","Interleukin signaling pathway","Angiogenesis","Alzheimer disease-amyloid secretase pathway","Alpha adrenergic receptor signaling pathway","Inflammation mediated by chemokine and cytokine signaling pathway","Angiotensin II-stimulated signaling through G proteins and beta-arrestin","p53 pathway feedback loops 2","Endothelin signaling pathway","EGF receptor signaling pathway","Cytoskeletal regulation by Rho GTPase","Thyrotropin-releasing hormone receptor signaling pathway","Oxidative stress response","Oxytocin receptor mediated signaling pathway","Muscarinic acetylcholine receptor 1 and 3 signaling pathway","Huntington disease","Heterotrimeric G-protein signaling pathway-Gq alpha and Go alpha mediated pathwa","5HT2 type receptor mediated signaling pathway","VEGF signaling pathway","Toll receptor signaling pathway","TGF-beta signaling pathway","FGF signaling pathway"],
                  "range": ["#ff2a2a","#e08a8a","#ffaa77","#ff5050","#d40000","#c8643c","#a8456e","#5a7f28","#2a8c6e","#3e66a8","#c8306e","#6b1a3a","#3a5a12","#1a5a44","#2a3a66","#c8643c","#a8456e","#5a7f28","#2a8c6e","#3e66a8","#7a2a0a","#6b1a3a","#3a5a12","#1a5a44","#2a3a66","#c8643c","#a8456e","#5a7f28","#2a8c6e","#3e66a8"]
                }
              }
            }
          }
        ]
      }
    ],
    "spacing": 12.1,
    "bounds": "flush",
    "resolve": {"scale": {"color": "independent", "fill": "independent", "theta": "independent", "x": "independent", "y": "independent"}}
  }
],
"spacing": 330.7,
"bounds": "flush",
"resolve": {"scale": {"color": "independent", "fill": "independent", "theta": "independent", "x": "independent", "y": "independent"}}
}
